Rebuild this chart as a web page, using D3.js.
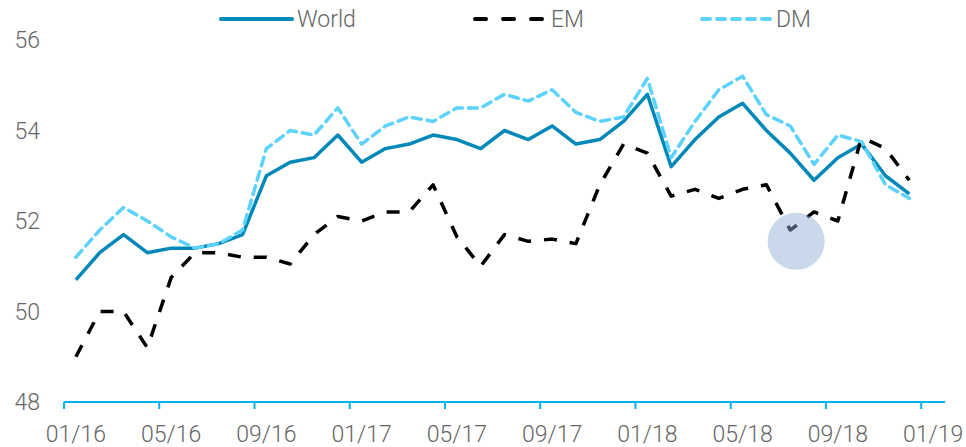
<!DOCTYPE html>
<html>
<head>
<meta charset="utf-8">
<script src="https://cdn.jsdelivr.net/npm/d3@7"></script>
<style>
  body { margin: 0; background: #fff; }
  svg text { font-family: Roboto, "Open Sans", sans-serif; font-weight: 300; fill: #666; }
</style>
</head>
<body>
<div id="chart"></div>
<script>
// PMI chart — World / EM / DM, monthly 01/16 .. 12/18

const months = [];
for (let y = 16; y <= 19; y++) {
  for (let m = 1; m <= 12; m++) {
    if (y === 19 && m > 1) break;
    months.push(String(m).padStart(2, '0') + '/' + y);
  }
}
const tickMonths = ['01/16', '05/16', '09/16', '01/17', '05/17', '09/17', '01/18', '05/18', '09/18', '01/19'];
const yTicks = [48, 50, 52, 54, 56];

const world = [50.7, 51.3, 51.7, 51.3, 51.4, 51.4, 51.5, 51.7, 53.0, 53.3, 53.4, 53.9,
               53.3, 53.6, 53.7, 53.9, 53.8, 53.6, 54.0, 53.8, 54.1, 53.7, 53.8, 54.2,
               54.8, 53.2, 53.8, 54.3, 54.6, 54.0, 53.5, 52.9, 53.4, 53.7, 53.0, 52.6];
const em    = [49.0, 50.0, 50.0, 49.2, 50.75, 51.3, 51.3, 51.2, 51.2, 51.05, 51.7, 52.1,
               52.0, 52.2, 52.2, 52.8, 51.65, 51.0, 51.7, 51.55, 51.6, 51.5, 52.8, 53.7,
               53.5, 52.55, 52.7, 52.5, 52.7, 52.8, 51.8, 52.2, 52.0, 53.85, 53.6, 52.9];
const dm    = [51.2, 51.8, 52.3, 52.0, 51.65, 51.4, 51.5, 51.8, 53.6, 54.0, 53.9, 54.5,
               53.7, 54.1, 54.3, 54.2, 54.5, 54.5, 54.8, 54.65, 54.9, 54.4, 54.2, 54.3,
               55.15, 53.4, 54.2, 54.9, 55.2, 54.35, 54.1, 53.25, 53.9, 53.75, 52.8, 52.5];
// marker sits a little right of the 07/18 point
const highlight = { month: '07/18', shift: 0.25, value: 51.55 };

const series = [
  { name: 'World', values: world, color: '#0088b8', dash: null,   cap: 'butt' },
  { name: 'EM',    values: em,    color: '#000000', dash: '13,13', cap: 'butt' },
  { name: 'DM',    values: dm,    color: '#5dd2fb', dash: '9,6',  cap: 'round' },
];

const width = 966, height = 447;
const svg = d3.select('#chart').append('svg')
  .attr('width', width).attr('height', height);

const x = d3.scaleBand().domain(months).range([64, 945]);
const y = d3.scaleLinear().domain([48, 56]).range([402, 40]);
const cx = m => x(m) + x.bandwidth() / 2;

// y labels (no axis line)
svg.append('g').selectAll('text')
  .data(yTicks)
  .join('text')
  .attr('x', 40)
  .attr('y', d => y(d))
  .attr('dy', '0.35em')
  .attr('text-anchor', 'end')
  .style('font-size', '23px')
  .text(d => d);

// x axis
const axis = svg.append('g');
axis.append('line')
  .attr('x1', x.range()[0]).attr('x2', x.range()[1])
  .attr('y1', y(48)).attr('y2', y(48))
  .attr('stroke', '#00b4ec').attr('stroke-width', 2);
axis.selectAll('.tick')
  .data(tickMonths)
  .join('line')
  .attr('x1', d => x(d)).attr('x2', d => x(d))
  .attr('y1', y(48)).attr('y2', y(48) + 7)
  .attr('stroke', '#00b4ec').attr('stroke-width', 2);
axis.selectAll('text')
  .data(tickMonths)
  .join('text')
  .attr('x', d => cx(d))
  .attr('y', 442)
  .attr('text-anchor', 'middle')
  .style('font-size', '23px')
  .text(d => d);

// lines
const line = d3.line()
  .x((d, i) => cx(months[i]))
  .y(d => y(d));

svg.append('g').selectAll('path')
  .data(series)
  .join('path')
  .attr('d', d => line(d.values))
  .attr('fill', 'none')
  .attr('stroke', d => d.color)
  .attr('stroke-width', 3.5)
  .attr('stroke-linejoin', 'round')
  .attr('stroke-linecap', d => d.cap)
  .attr('stroke-dasharray', d => d.dash);

// highlight marker
svg.append('circle')
  .attr('cx', cx(highlight.month) + x.bandwidth() * highlight.shift)
  .attr('cy', y(highlight.value))
  .attr('r', 28.5)
  .attr('fill', '#8fadd4')
  .attr('opacity', 0.48);

// legend
const legend = [
  { s: series[0], x1: 221, x2: 292, tx: 297 },
  { s: series[1], x1: 475, x2: 546, tx: 551 },
  { s: series[2], x1: 702, x2: 771, tx: 776 },
];
const lg = svg.append('g').selectAll('g').data(legend).join('g');
lg.append('line')
  .attr('x1', d => d.x1).attr('x2', d => d.x2)
  .attr('y1', 19).attr('y2', 19)
  .attr('stroke', d => d.s.color)
  .attr('stroke-width', 4)
  .attr('stroke-linecap', 'round')
  .attr('stroke-dasharray', d => d.s.name === 'EM' ? '11,17' : d.s.name === 'DM' ? '8,7' : null);
lg.append('text')
  .attr('x', d => d.tx)
  .attr('y', 19)
  .attr('dy', '0.35em')
  .style('font-size', '23px')
  .text(d => d.s.name);
</script>
</body>
</html>
